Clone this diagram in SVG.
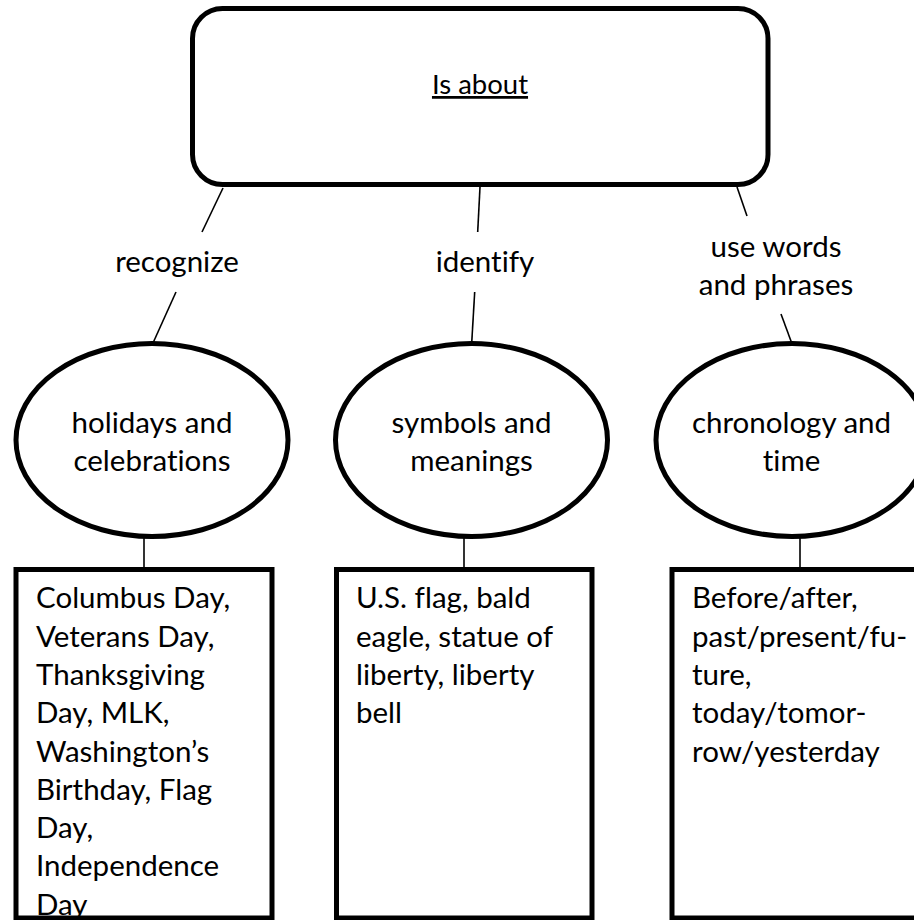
<svg xmlns="http://www.w3.org/2000/svg" width="914" height="920" viewBox="0 0 914 920">
<style>
.shape{fill:#fff;stroke:#000;stroke-width:5}
.conn{stroke:#000;stroke-width:1.6;fill:none}
text{font-family:Lato,"Liberation Sans",sans-serif;font-size:29.5px;fill:#000;font-variant-ligatures:none}
.c{text-anchor:middle}
</style>
<rect width="914" height="920" fill="#fff"/>
<g id="connectors">
<line class="conn" x1="223" y1="188" x2="202" y2="232"/>
<line class="conn" x1="176" y1="292" x2="153" y2="343"/>
<line class="conn" x1="480" y1="187" x2="477.7" y2="232"/>
<line class="conn" x1="474.7" y1="292" x2="471.7" y2="343"/>
<line class="conn" x1="737" y1="187" x2="747" y2="216"/>
<line class="conn" x1="781" y1="314" x2="791.7" y2="343"/>
<line class="conn" x1="144" y1="538" x2="144" y2="569"/>
<line class="conn" x1="464" y1="538" x2="464" y2="569"/>
<line class="conn" x1="800" y1="538" x2="800" y2="569"/>
</g>
<g id="labels">
<text class="c" x="177" y="272">recognize</text>
<text class="c" x="485" y="272">identify</text>
<text class="c" x="776" y="257">use words</text>
<text class="c" x="776" y="294.5">and phrases</text>
</g>
<g id="root">
<rect class="shape" x="192.5" y="8.5" width="575.5" height="176" rx="30"/>
<text class="c" x="480" y="94" text-decoration="underline" style="font-size:27.5px">Is about</text>
</g>
<g id="holidays">
<ellipse class="shape" cx="152" cy="440" rx="136" ry="96.5"/>
<text class="c" x="152" y="433">holidays and</text>
<text class="c" x="152" y="470.5">celebrations</text>
</g>
<g id="symbols">
<ellipse class="shape" cx="471.5" cy="440" rx="136" ry="96.5"/>
<text class="c" x="471.5" y="433">symbols and</text>
<text class="c" x="471.5" y="470.5">meanings</text>
</g>
<g id="chronology">
<ellipse class="shape" cx="792" cy="440" rx="136" ry="96.5"/>
<text class="c" x="791.5" y="433">chronology and</text>
<text class="c" x="791.5" y="470.5">time</text>
</g>
<g id="holidays-list">
<rect class="shape" x="16" y="569.5" width="256" height="348.5"/>
<text x="36" y="608.3">Columbus Day,</text>
<text x="36" y="646.6">Veterans Day,</text>
<text x="36" y="684.9">Thanksgiving</text>
<text x="36" y="723.2">Day, MLK,</text>
<text x="36" y="761.5">Washington’s</text>
<text x="36" y="799.8">Birthday, Flag</text>
<text x="36" y="838.1">Day,</text>
<text x="36" y="876.4">Independence</text>
<text x="36" y="914.7">Day</text>
</g>
<g id="symbols-list">
<rect class="shape" x="336.5" y="569.5" width="255.5" height="348.5"/>
<text x="356" y="608.3">U.S. flag, bald</text>
<text x="356" y="646.6">eagle, statue of</text>
<text x="356" y="684.9">liberty, liberty</text>
<text x="356" y="723.2">bell</text>
</g>
<g id="chronology-list">
<rect class="shape" x="672" y="569.5" width="260" height="348.5"/>
<text x="692" y="608.3">Before/after,</text>
<text x="692" y="646.6">past/present/fu-</text>
<text x="692" y="684.9">ture,</text>
<text x="692" y="723.2">today/tomor-</text>
<text x="692" y="761.5">row/yesterday</text>
</g>
</svg>
